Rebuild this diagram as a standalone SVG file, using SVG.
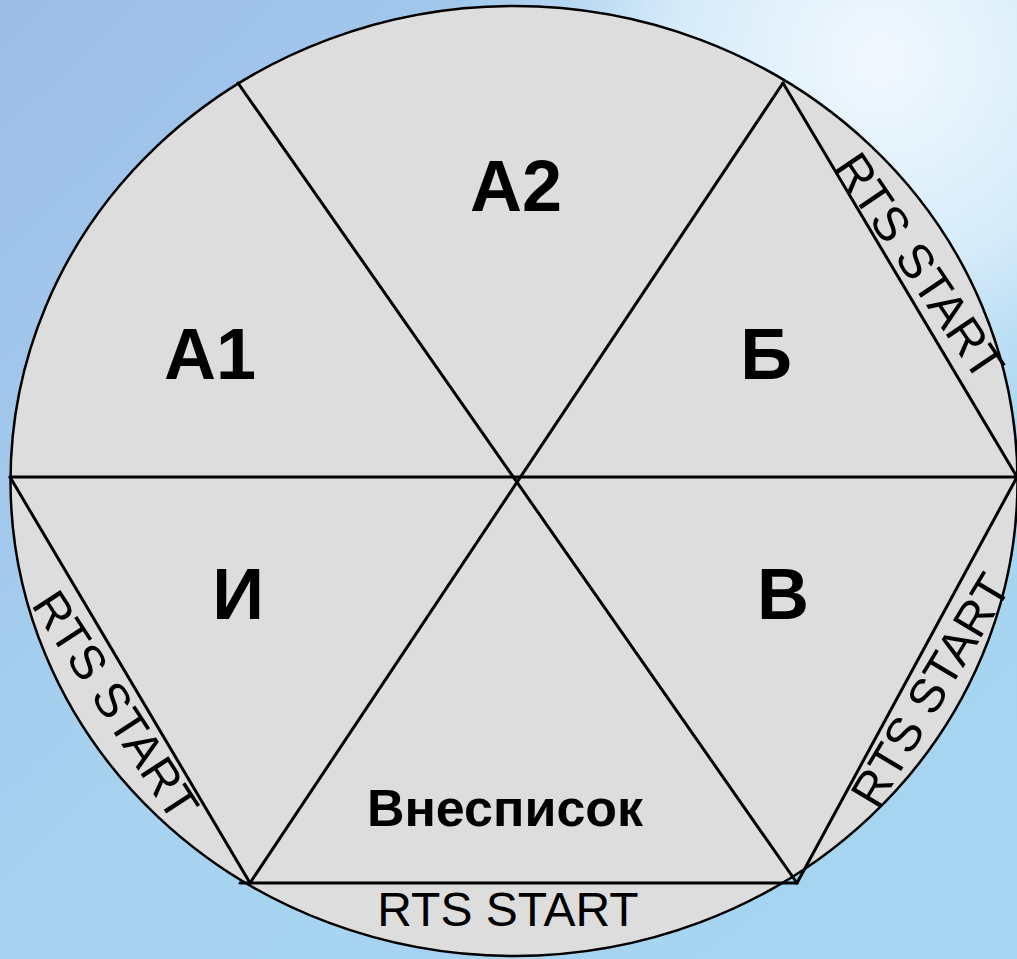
<svg xmlns="http://www.w3.org/2000/svg" width="1017" height="959" viewBox="0 0 1017 959">
<defs>
<linearGradient id="bg" x1="0" y1="0" x2="1" y2="1">
<stop offset="0" stop-color="#9dbde8"/>
<stop offset="0.5" stop-color="#a7d3f0"/>
<stop offset="1" stop-color="#a6d6f1"/>
</linearGradient>
<radialGradient id="hl" cx="880" cy="60" r="420" gradientUnits="userSpaceOnUse">
<stop offset="0" stop-color="#f2f9fe" stop-opacity="1"/>
<stop offset="0.5" stop-color="#e2f2fc" stop-opacity="0.8"/>
<stop offset="1" stop-color="#c8e6f7" stop-opacity="0"/>
</radialGradient>
<style>
.ln{stroke:#000;stroke-width:3;fill:none;stroke-linecap:round}
.big{font-family:"Liberation Sans",Arial,sans-serif;font-weight:bold;font-size:72px;fill:#000;text-anchor:middle}
.mid{font-family:"Liberation Sans",Arial,sans-serif;font-weight:bold;font-size:52px;fill:#000;text-anchor:middle}
.rts{font-family:"Liberation Sans",Arial,sans-serif;font-size:48px;fill:#000;text-anchor:middle}
</style>
</defs>
<rect width="1017" height="959" fill="url(#bg)"/>
<rect width="1017" height="959" fill="url(#hl)"/>
<g id="disc">
<ellipse cx="514" cy="481" rx="503.5" ry="475" fill="#dddddd" stroke="#000" stroke-width="2.5"/>
</g>
<g id="connectors">
<line class="ln" x1="10" y1="477" x2="1017" y2="477"/>
<line class="ln" x1="238" y1="83" x2="797" y2="883"/>
<line class="ln" x1="783" y1="83" x2="250" y2="883"/>
<line class="ln" x1="783" y1="83" x2="1017" y2="477"/>
<line class="ln" x1="1017" y1="477" x2="797" y2="883"/>
<line class="ln" x1="797" y1="883" x2="240" y2="883"/>
<line class="ln" x1="250" y1="883" x2="10" y2="477"/>
</g>
<g id="node-A2"><text class="big" x="516" y="211">А2</text></g>
<g id="node-A1"><text class="big" x="210" y="379">А1</text></g>
<g id="node-B"><text class="big" x="766" y="379">Б</text></g>
<g id="node-I"><text class="big" x="238" y="619">И</text></g>
<g id="node-V"><text class="big" x="783" y="619">В</text></g>
<g id="node-vnespisok"><text class="mid" x="505" y="826">Внесписок</text></g>
<g id="band-bottom"><text class="rts" x="508" y="926">RTS START</text></g>
<g id="band-right-top"><text class="rts" transform="translate(920,266) rotate(56)" y="17">RTS START</text></g>
<g id="band-left-bottom"><text class="rts" transform="translate(116,705) rotate(57)" y="17">RTS START</text></g>
<g id="band-right-bottom"><text class="rts" transform="translate(930,690) rotate(-59)" y="17" font-size="47">RTS START</text></g>
</svg>
